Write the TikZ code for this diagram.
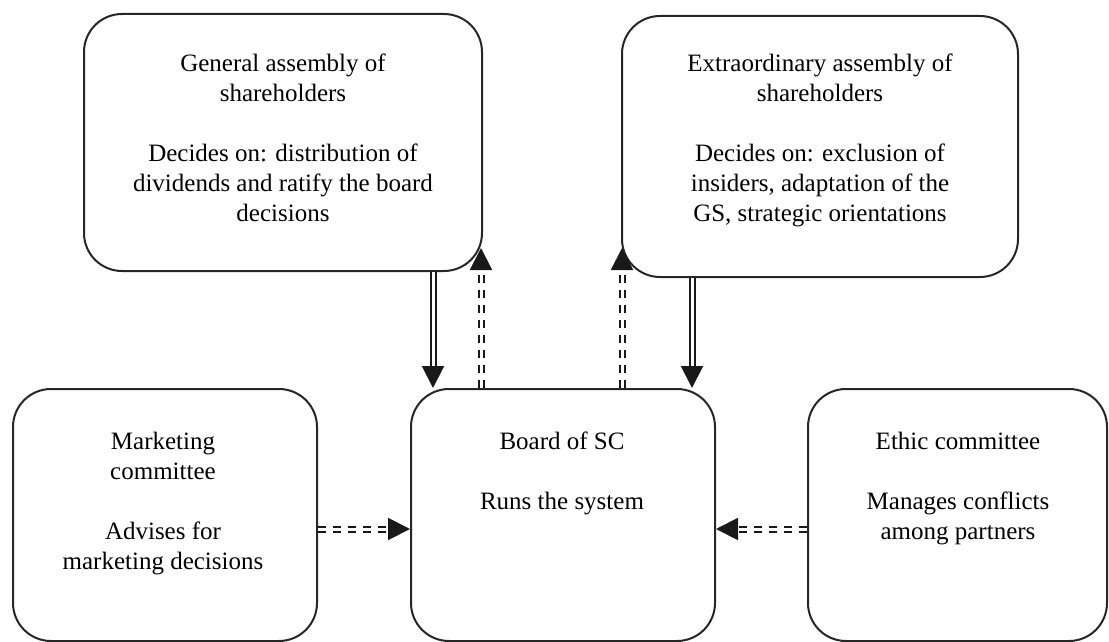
\documentclass[tikz,border=0pt]{standalone}
\usepackage{fontspec}
\setmainfont{Liberation Serif}
\usetikzlibrary{arrows.meta}
\begin{document}
\begin{tikzpicture}[x=1pt,y=-1pt,
  box/.style={draw=black!85, line width=2pt, rounded corners=38pt, inner sep=0pt},
  txt/.style={font=\fontsize{25}{30}\selectfont, align=center, inner sep=0pt, anchor=north},
  dbl/.style={draw=black!90, line width=2pt, double=white, double distance=3pt,
              -{Triangle[length=22pt,width=22pt]}},
  ddash/.style={dbl, dash pattern=on 8pt off 7pt}]
\useasboundingbox (0,0) rectangle (1109,642);

% boxes
\node[box, minimum width=398pt, minimum height=257pt] (ga) at (283,142.5) {};
\node[box, minimum width=396pt, minimum height=261pt] (ea) at (820,146.5) {};
\node[box, minimum width=304pt, minimum height=252pt] (mk) at (165,515) {};
\node[box, minimum width=304pt, minimum height=252pt] (bd) at (563,515) {};
\node[box, minimum width=299pt, minimum height=252pt] (et) at (957.5,515) {};

% texts
\node[txt] (gat) at (283,54) {General assembly of\\shareholders\\[30pt]Decides on: distribution of\\dividends and ratify the board\\decisions};
\node[txt] (eat) at (820,54) {Extraordinary assembly of\\shareholders\\[30pt]Decides on: exclusion of\\insiders, adaptation of the\\GS, strategic orientations};
\node[txt] (mkt) at (163,432) {Marketing\\committee\\[30pt]Advises for\\marketing decisions};
\node[txt] (bdt) at (562,432) {Board of SC\\[30pt]Runs the system};
\node[txt] (ett) at (958,432) {Ethic committee\\[30pt]Manages conflicts\\among partners};

% connector positions
\coordinate (gadown) at (433,300);
\coordinate (gaup) at (481,248);
\coordinate (eaup) at (622,248);
\coordinate (eadown) at (692,300);
\coordinate (side) at (0,529);

% connectors
\draw[dbl] (gadown |- ga.south) -- (gadown |- bd.north);
\draw[ddash] (gaup |- bd.north) -- (gaup);
\draw[ddash] (eaup |- bd.north) -- (eaup);
\draw[dbl] (eadown |- ea.south) -- (eadown |- bd.north);
\draw[ddash] (mk.east |- side) -- (bd.west |- side);
\draw[ddash] (et.west |- side) -- (bd.east |- side);
\end{tikzpicture}
\end{document}
